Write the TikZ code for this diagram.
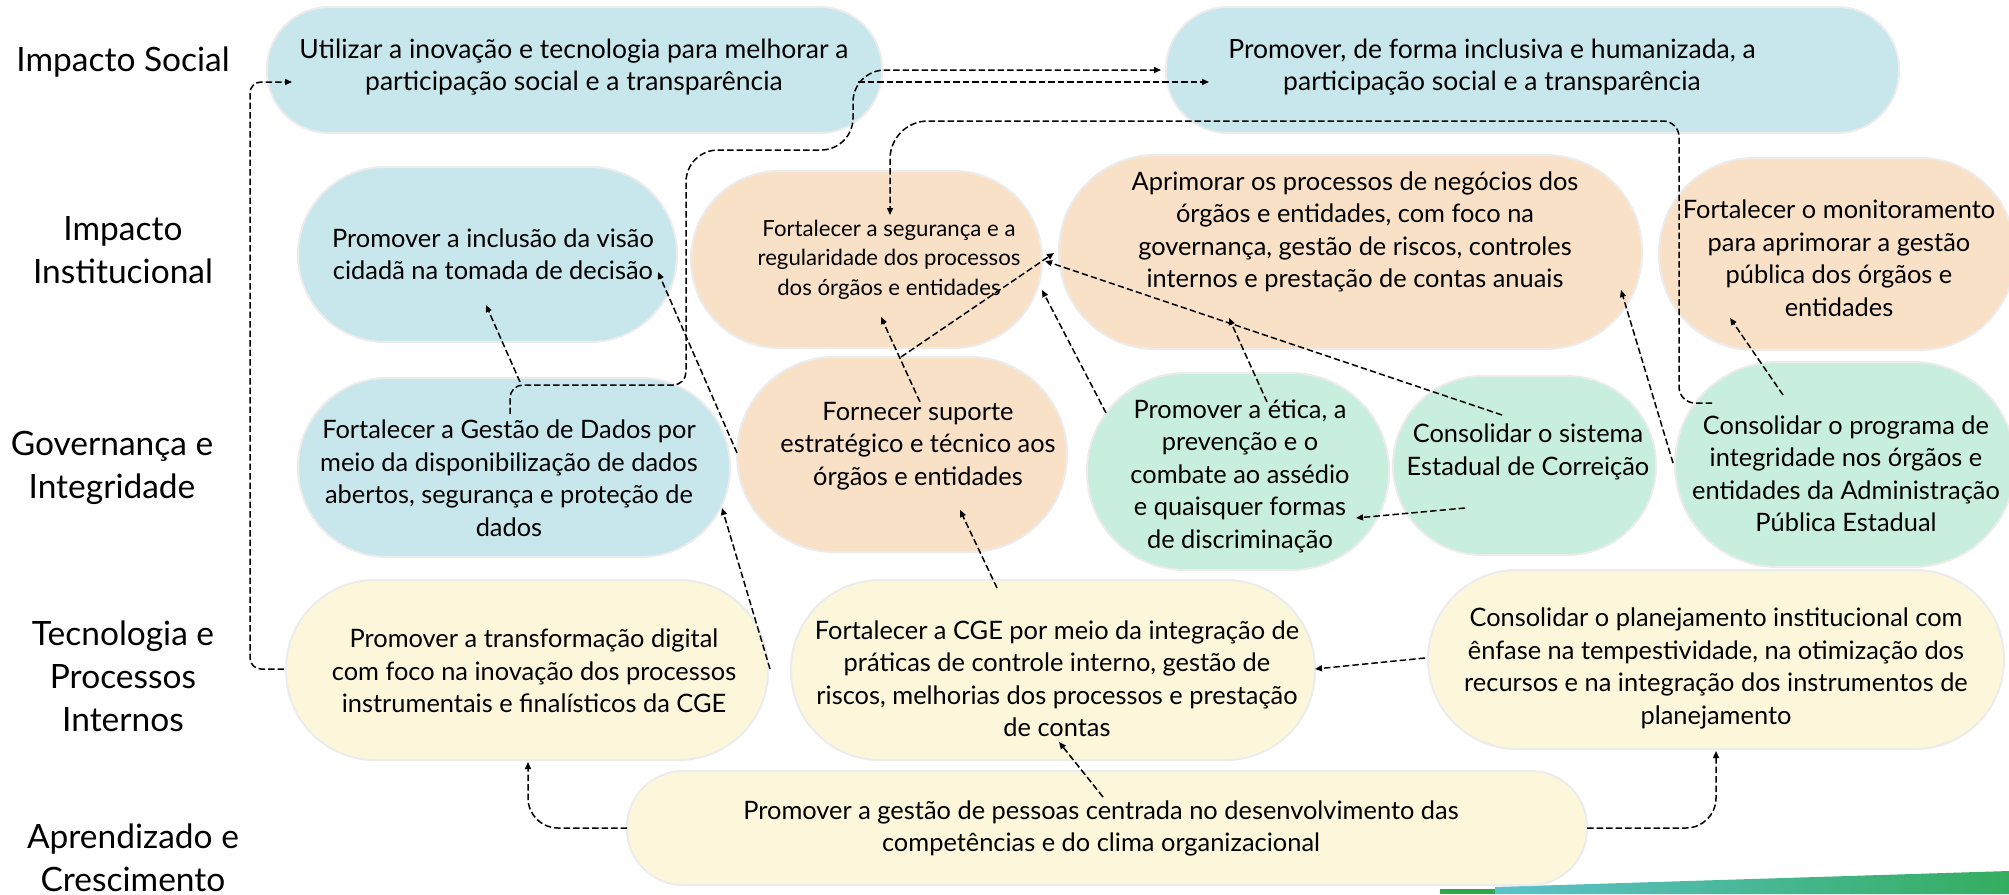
\documentclass[tikz,border=0pt]{standalone}
\usepackage{fontspec}
\setmainfont{Lato}
\usetikzlibrary{arrows.meta}
\definecolor{cblue}{HTML}{C8E7EC}
\definecolor{cpeach}{HTML}{F9E1C8}
\definecolor{cgreen}{HTML}{C8EEDD}
\definecolor{cyellow}{HTML}{FCF6DB}
\definecolor{cedge}{HTML}{ECECEC}
\definecolor{barteal}{HTML}{5CC2CC}
\definecolor{bargreen}{HTML}{35AD5F}
\definecolor{bardark}{HTML}{2BA84B}
\tikzset{
  shapebox/.style={draw=cedge, line width=2pt, inner sep=0pt, rectangle},
  txt/.style={align=center, inner sep=0pt, font=\fontsize{25.4}{32.5}\selectfont},
  txtbig/.style={align=center, inner sep=0pt, font=\fontsize{26.5}{32.5}\selectfont},
  txtsmall/.style={align=center, inner sep=0pt, font=\fontsize{22.2}{29.5}\selectfont},
  lbl/.style={align=center, inner sep=0pt, font=\fontsize{33.5}{43}\selectfont},
  conn/.style={line width=1.5pt, dash pattern=on 6.5pt off 3pt, -{Triangle[length=7pt,width=6pt]}},
}
\begin{document}
\begin{tikzpicture}[x=1pt,y=-1pt]
\useasboundingbox (0,0) rectangle (2009,894);

% bottom bar
\fill[bardark] (1440,889) rectangle (1496,894);
\shade[left color=barteal, right color=bargreen] (1495,887) -- (2009,871) -- (2009,894) -- (1495,894) -- cycle;

% row labels
\node[lbl] (l1) at (123,62) {Impacto Social};
\node[lbl] (l2) at (123,250.5) {Impacto\\Institucional};
\node[lbl] (l3) at (112,468) {Governança e\\Integridade};
\node[lbl] (l4) at (123,676) {Tecnologia e\\Processos\\Internos};
\node[lbl] (l5) at (133,858) {Aprendizado e\\Crescimento};

% boxes
\node[shapebox, fill=cblue, minimum width=615pt, minimum height=126pt, rounded corners=62pt] (A) at (574.5,70) {};
\node[shapebox, fill=cblue, minimum width=733pt, minimum height=126pt, rounded corners=62pt] (B) at (1532.5,70) {};
\node[shapebox, fill=cblue, minimum width=379pt, minimum height=175pt, rounded corners=87pt] (C) at (487.5,254.5) {};
\node[shapebox, fill=cpeach, minimum width=351pt, minimum height=177pt, rounded corners=88pt] (D) at (866.5,259.5) {};
\node[shapebox, fill=cpeach, minimum width=583pt, minimum height=194pt, rounded corners=96pt] (E) at (1350.5,252) {};
\node[shapebox, fill=cpeach, minimum width=356pt, minimum height=192pt, rounded corners=95pt] (F) at (1837,254) {};
\node[shapebox, fill=cblue, minimum width=432pt, minimum height=179pt, rounded corners=89pt] (G) at (514,467.5) {};
\node[shapebox, fill=cpeach, minimum width=330pt, minimum height=195pt, rounded corners=97pt] (H) at (902,454.5) {};
\node[shapebox, fill=cgreen, minimum width=302pt, minimum height=197pt, rounded corners=98pt] (I) at (1238,471.5) {};
\node[shapebox, fill=cgreen, minimum width=263pt, minimum height=179pt, rounded corners=89pt] (J) at (1524.5,465.5) {};
\node[shapebox, fill=cgreen, minimum width=340pt, minimum height=205pt, rounded corners=102pt] (K) at (1845,464.5) {};
\node[shapebox, fill=cyellow, minimum width=482pt, minimum height=180pt, rounded corners=89pt] (L) at (527,670) {};
\node[shapebox, fill=cyellow, minimum width=524pt, minimum height=180pt, rounded corners=89pt] (M) at (1053,670) {};
\node[shapebox, fill=cyellow, minimum width=576pt, minimum height=179pt, rounded corners=89pt] (N) at (1716,659.5) {};
\node[shapebox, fill=cyellow, minimum width=960pt, minimum height=114pt, rounded corners=56pt] (O) at (1107,828) {};

% texts
\node[txtbig] (At) at (574,67) {Utilizar a inovação e tecnologia para melhorar a\\participação social e a transparência};
\node[txtbig] (Bt) at (1492,67) {Promover, de forma inclusiva e humanizada, a\\participação social e a transparência};
\node[txt] (Ct) at (493,254) {Promover a inclusão da visão\\cidadã na tomada de decisão};
\node[txtsmall] (Dt) at (889,259.5) {Fortalecer a segurança e a\\regularidade dos processos\\dos órgãos e entidades};
\node[txt] (Et) at (1355,232) {Aprimorar os processos de negócios dos\\órgãos e entidades, com foco na\\governança, gestão de riscos, controles\\internos e prestação de contas anuais};
\node[txt] (Ft) at (1839,258) {Fortalecer o monitoramento\\para aprimorar a gestão\\pública dos órgãos e\\entidades};
\node[txt] (Gt) at (509,478) {Fortalecer a Gestão de Dados por\\meio da disponibilização de dados\\abertos, segurança e proteção de\\dados};
\node[txt] (Ht) at (918,446) {Fornecer suporte\\estratégico e técnico aos\\órgãos e entidades};
\node[txt] (It) at (1240,476) {Promover a ética, a\\prevenção e o\\combate ao assédio\\e quaisquer formas\\de discriminação};
\node[txt] (Jt) at (1528,452) {Consolidar o sistema\\Estadual de Correição};
\node[txt] (Kt) at (1846,473.5) {Consolidar o programa de\\integridade nos órgãos e\\entidades da Administração\\Pública Estadual};
\node[txt] (Lt) at (534,671) {Promover a transformação digital\\com foco na inovação dos processos\\instrumentais e finalísticos da CGE};
\node[txt] (Mt) at (1057,678.5) {Fortalecer a CGE por meio da integração de\\práticas de controle interno, gestão de\\riscos, melhorias dos processos e prestação\\de contas};
\node[txt] (Nt) at (1716,668.5) {Consolidar o planejamento institucional com\\ênfase na tempestividade, na otimização dos\\recursos e na integração dos instrumentos de\\planejamento};
\node[txt] (Ot) at (1101,828.5) {Promover a gestão de pessoas centrada no desenvolvimento das\\competências e do clima organizacional};

% connector end points
\coordinate (c1s) at (284,669);   \coordinate (c1e) at (292,82);
\coordinate (c2s) at (858,82);    \coordinate (c2e) at (1209,82);
\coordinate (c3s) at (510,414);   \coordinate (c3e) at (1161,70);
\coordinate (c4s) at (1712,403);  \coordinate (c4e) at (890,215);
\coordinate (c5s) at (920,402);   \coordinate (c5e) at (881,317);
\coordinate (c6s) at (901,357);   \coordinate (c6e) at (1054,253);
\coordinate (c7s) at (1502,415);  \coordinate (c7e) at (1045,261);
\coordinate (c8s) at (1267,402);  \coordinate (c8e) at (1229,318);
\coordinate (c9s) at (1106,413);  \coordinate (c9e) at (1042,290);
\coordinate (c10s) at (520,382);  \coordinate (c10e) at (486,305);
\coordinate (c11s) at (737,453);  \coordinate (c11e) at (658,272);
\coordinate (c12s) at (770,669);  \coordinate (c12e) at (722,508);
\coordinate (c13s) at (997,588);  \coordinate (c13e) at (960,510);
\coordinate (c14s) at (1103,797); \coordinate (c14e) at (1059,742);
\coordinate (c15s) at (627,828);  \coordinate (c15e) at (528,762);
\coordinate (c16s) at (1587,828); \coordinate (c16e) at (1716,751);
\coordinate (c17s) at (1425,658); \coordinate (c17e) at (1315,669);
\coordinate (c18s) at (1465,508); \coordinate (c18e) at (1356,518);
\coordinate (c19s) at (1673,463); \coordinate (c19e) at (1621,290);
\coordinate (c20s) at (1783,395); \coordinate (c20e) at (1730,318);

% connectors
\draw[conn, rounded corners=11pt] (c1s) -- ++(-34,0) |- (c1e);
\draw[conn] (c2s) -- (c2e);
\draw[conn] [rounded corners=13pt] (c3s) -- (510,385) -- (686,385) [rounded corners=32pt] -- (686,150) -- (853,150) -- (853,70) -- (c3e);
\draw[conn] [rounded corners=16pt] (c4s) -- (1679,403) -- (1679,121) [rounded corners=38pt] -- (890,121) -- (c4e);
\draw[conn] (c5s) -- (c5e);
\draw[conn] (c6s) -- (c6e);
\draw[conn] (c7s) -- (c7e);
\draw[conn] (c8s) -- (c8e);
\draw[conn] (c9s) -- (c9e);
\draw[conn] (c10s) -- (c10e);
\draw[conn] (c11s) -- (c11e);
\draw[conn] (c12s) -- (c12e);
\draw[conn] (c13s) -- (c13e);
\draw[conn] (c14s) -- (c14e);
\draw[conn, rounded corners=30pt] (c15s) -| (c15e);
\draw[conn, rounded corners=30pt] (c16s) -| (c16e);
\draw[conn] (c17s) -- (c17e);
\draw[conn] (c18s) -- (c18e);
\draw[conn] (c19s) -- (c19e);
\draw[conn] (c20s) -- (c20e);
\end{tikzpicture}
\end{document}
